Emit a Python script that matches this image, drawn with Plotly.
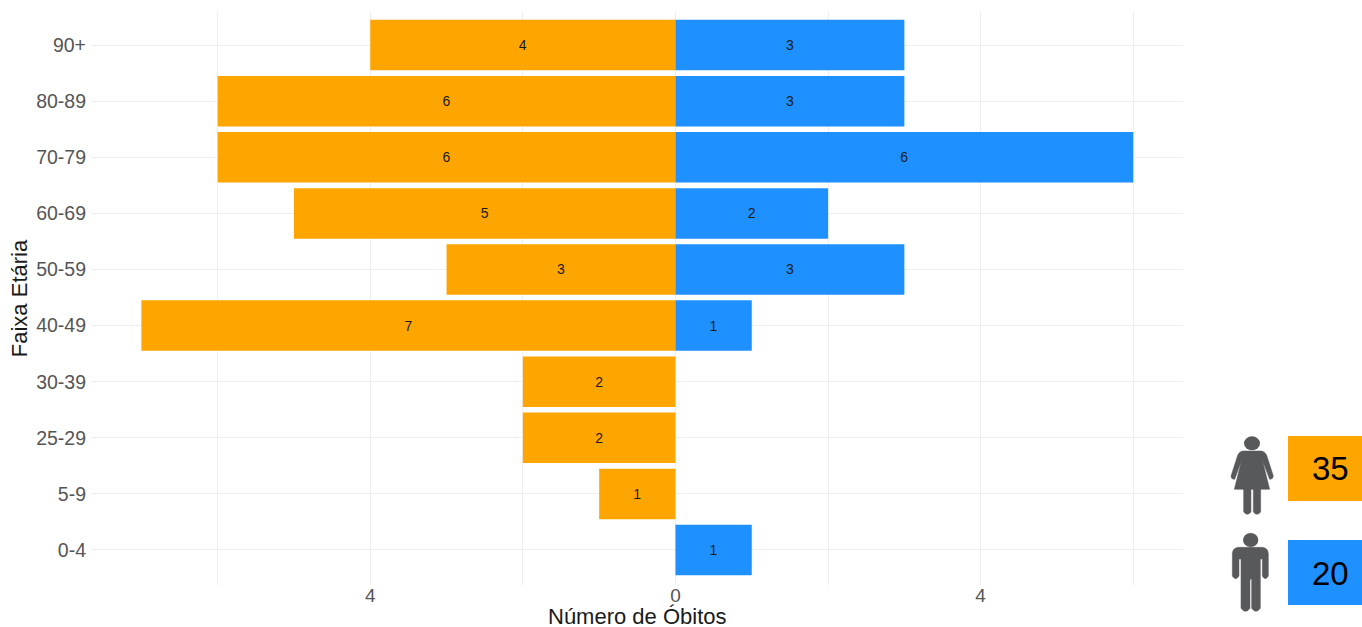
import plotly.graph_objects as go

age_groups = ["0-4", "5-9", "25-29", "30-39", "40-49", "50-59", "60-69", "70-79", "80-89", "90+"]
female_deaths = [None, 1, 2, 2, 7, 3, 5, 6, 6, 4]
male_deaths = [1, None, None, None, 1, 3, 2, 6, 3, 3]
x_ticks = [-6, -4, -2, 0, 2, 4, 6]
x_tick_labels = ["", "4", "", "0", "", "4", ""]
x_title = "Número de Óbitos"
y_title = "Faixa Etária"
female_total = "35"
male_total = "20"

ORANGE = "#FFA500"
BLUE = "#1E90FF"
ICON = "#58595B"
W, H = 1362, 627
L, R, T, B = 92, 1183, 12, 585

fx = lambda p: (p - L) / (R - L)
fy = lambda p: (B - p) / (B - T)


def neg(v):
    return None if v is None else -v


def lab(v):
    return "" if v is None else str(v)


def zoomed_path(cmds):
    """Path from 3x zoom coordinates of the icon region (offset 1200,420)."""
    out = []
    for c in cmds:
        if isinstance(c, str):
            out.append(c)
        else:
            out.append(f"{fx(1200 + c[0] / 3):.5f},{fy(420 + c[1] / 3):.5f}")
    return " ".join(out)


def icon_shape(cmds):
    return dict(type="path", xref="paper", yref="paper", path=zoomed_path(cmds),
                fillcolor=ICON, line=dict(color=ICON, width=0.5), layer="above")


def ell(cx, cy, rx, ry):
    return dict(type="circle", xref="paper", yref="paper",
                x0=fx(1200 + (cx - rx) / 3), x1=fx(1200 + (cx + rx) / 3),
                y0=fy(420 + (cy + ry) / 3), y1=fy(420 + (cy - ry) / 3),
                fillcolor=ICON, line=dict(width=0), layer="above")


def box(x0, y0, x1, y1, color):
    return dict(type="rect", xref="paper", yref="paper",
                x0=fx(x0), x1=fx(x1), y0=fy(y1), y1=fy(y0),
                fillcolor=color, line=dict(width=0), layer="above")


woman_body = ["M", (128, 93), "L", (184, 93), "Q", (196, 95), (200, 106), "L", (220, 168),
              "Q", (219, 178), (209, 178), "L", (188, 124), "L", (209, 208), "L", (103, 208),
              "L", (124, 124), "L", (104, 178), "Q", (93, 178), (93, 168), "L", (113, 106),
              "Q", (117, 95), (128, 93), "Z"]
woman_leg_l = ["M", (131, 206), "L", (153, 206), "L", (153, 276), "Q", (142, 290), (131, 276), "Z"]
woman_leg_r = ["M", (160, 206), "L", (182, 206), "L", (182, 276), "Q", (171, 290), (160, 276), "Z"]
man_body = ["M", (115, 382), "L", (187, 382), "Q", (205, 384), (205, 402), "L", (205, 468),
            "Q", (196, 484), (187, 468), "L", (187, 417), "L", (181, 417), "L", (181, 565),
            "Q", (168, 583), (155, 565), "L", (155, 478), "L", (150, 478), "L", (150, 565),
            "Q", (137, 583), (123, 565), "L", (123, 417), "L", (117, 417), "L", (117, 468),
            "Q", (107, 484), (97, 468), "L", (97, 402), "Q", (97, 384), (115, 382), "Z"]

fig = go.Figure()
fig.add_bar(y=age_groups, x=[neg(v) for v in female_deaths], orientation="h", width=0.9,
            marker=dict(color=ORANGE, line=dict(width=0)),
            text=[lab(v) for v in female_deaths], name="Feminino")
fig.add_bar(y=age_groups, x=male_deaths, orientation="h", width=0.9,
            marker=dict(color=BLUE, line=dict(width=0)),
            text=[lab(v) for v in male_deaths], name="Masculino")
fig.update_traces(textposition="inside", insidetextanchor="middle", textangle=0,
                  insidetextfont=dict(color="#1A1A1A", size=14, family="Liberation Sans"),
                  cliponaxis=False)

fig.update_layout(
    width=W, height=H, barmode="overlay", showlegend=False,
    paper_bgcolor="white", plot_bgcolor="white",
    margin=dict(l=L, r=W - R, t=T, b=H - B, autoexpand=False),
    font=dict(family="Liberation Sans"),
    xaxis=dict(range=[-7.647, 6.652], tickmode="array", tickvals=x_ticks, ticktext=x_tick_labels,
               showgrid=True, gridcolor="#EEEEEE", gridwidth=1.4, zeroline=False, showline=False,
               ticks="", ticklabelstandoff=-3, tickfont=dict(size=19, color="#555555")),
    yaxis=dict(type="category", categoryorder="array", categoryarray=age_groups,
               range=[-0.624, 9.59], showgrid=True, gridcolor="#EEEEEE", gridwidth=1.4,
               zeroline=False, showline=False, ticks="", ticklabelstandoff=5,
               tickfont=dict(size=19.5, color="#555555"),
               title=dict(text=y_title, font=dict(size=22, color="#1A1A1A"), standoff=2)),
    shapes=[
        box(1288, 436, 1362, 501, ORANGE),
        box(1288, 540, 1362, 605, BLUE),
        ell(156, 70, 24, 21), icon_shape(woman_body), icon_shape(woman_leg_l), icon_shape(woman_leg_r),
        ell(152, 360, 23, 21), icon_shape(man_body),
    ],
    annotations=[
        dict(xref="paper", yref="paper", x=fx(637.5), y=fy(616.5), text=x_title, showarrow=False,
             xanchor="center", yanchor="middle",
             font=dict(size=22, color="#1A1A1A", family="Liberation Sans")),
        dict(xref="paper", yref="paper", x=fx(1330), y=fy(468), text=female_total, showarrow=False,
             xanchor="center", yanchor="middle",
             font=dict(size=33, color="black", family="Liberation Sans")),
        dict(xref="paper", yref="paper", x=fx(1330), y=fy(573), text=male_total, showarrow=False,
             xanchor="center", yanchor="middle",
             font=dict(size=33, color="black", family="Liberation Sans")),
    ],
)

fig.write_html("out.html", config=dict(displayModeBar=False),
               post_script="document.body.style.margin='0';")
